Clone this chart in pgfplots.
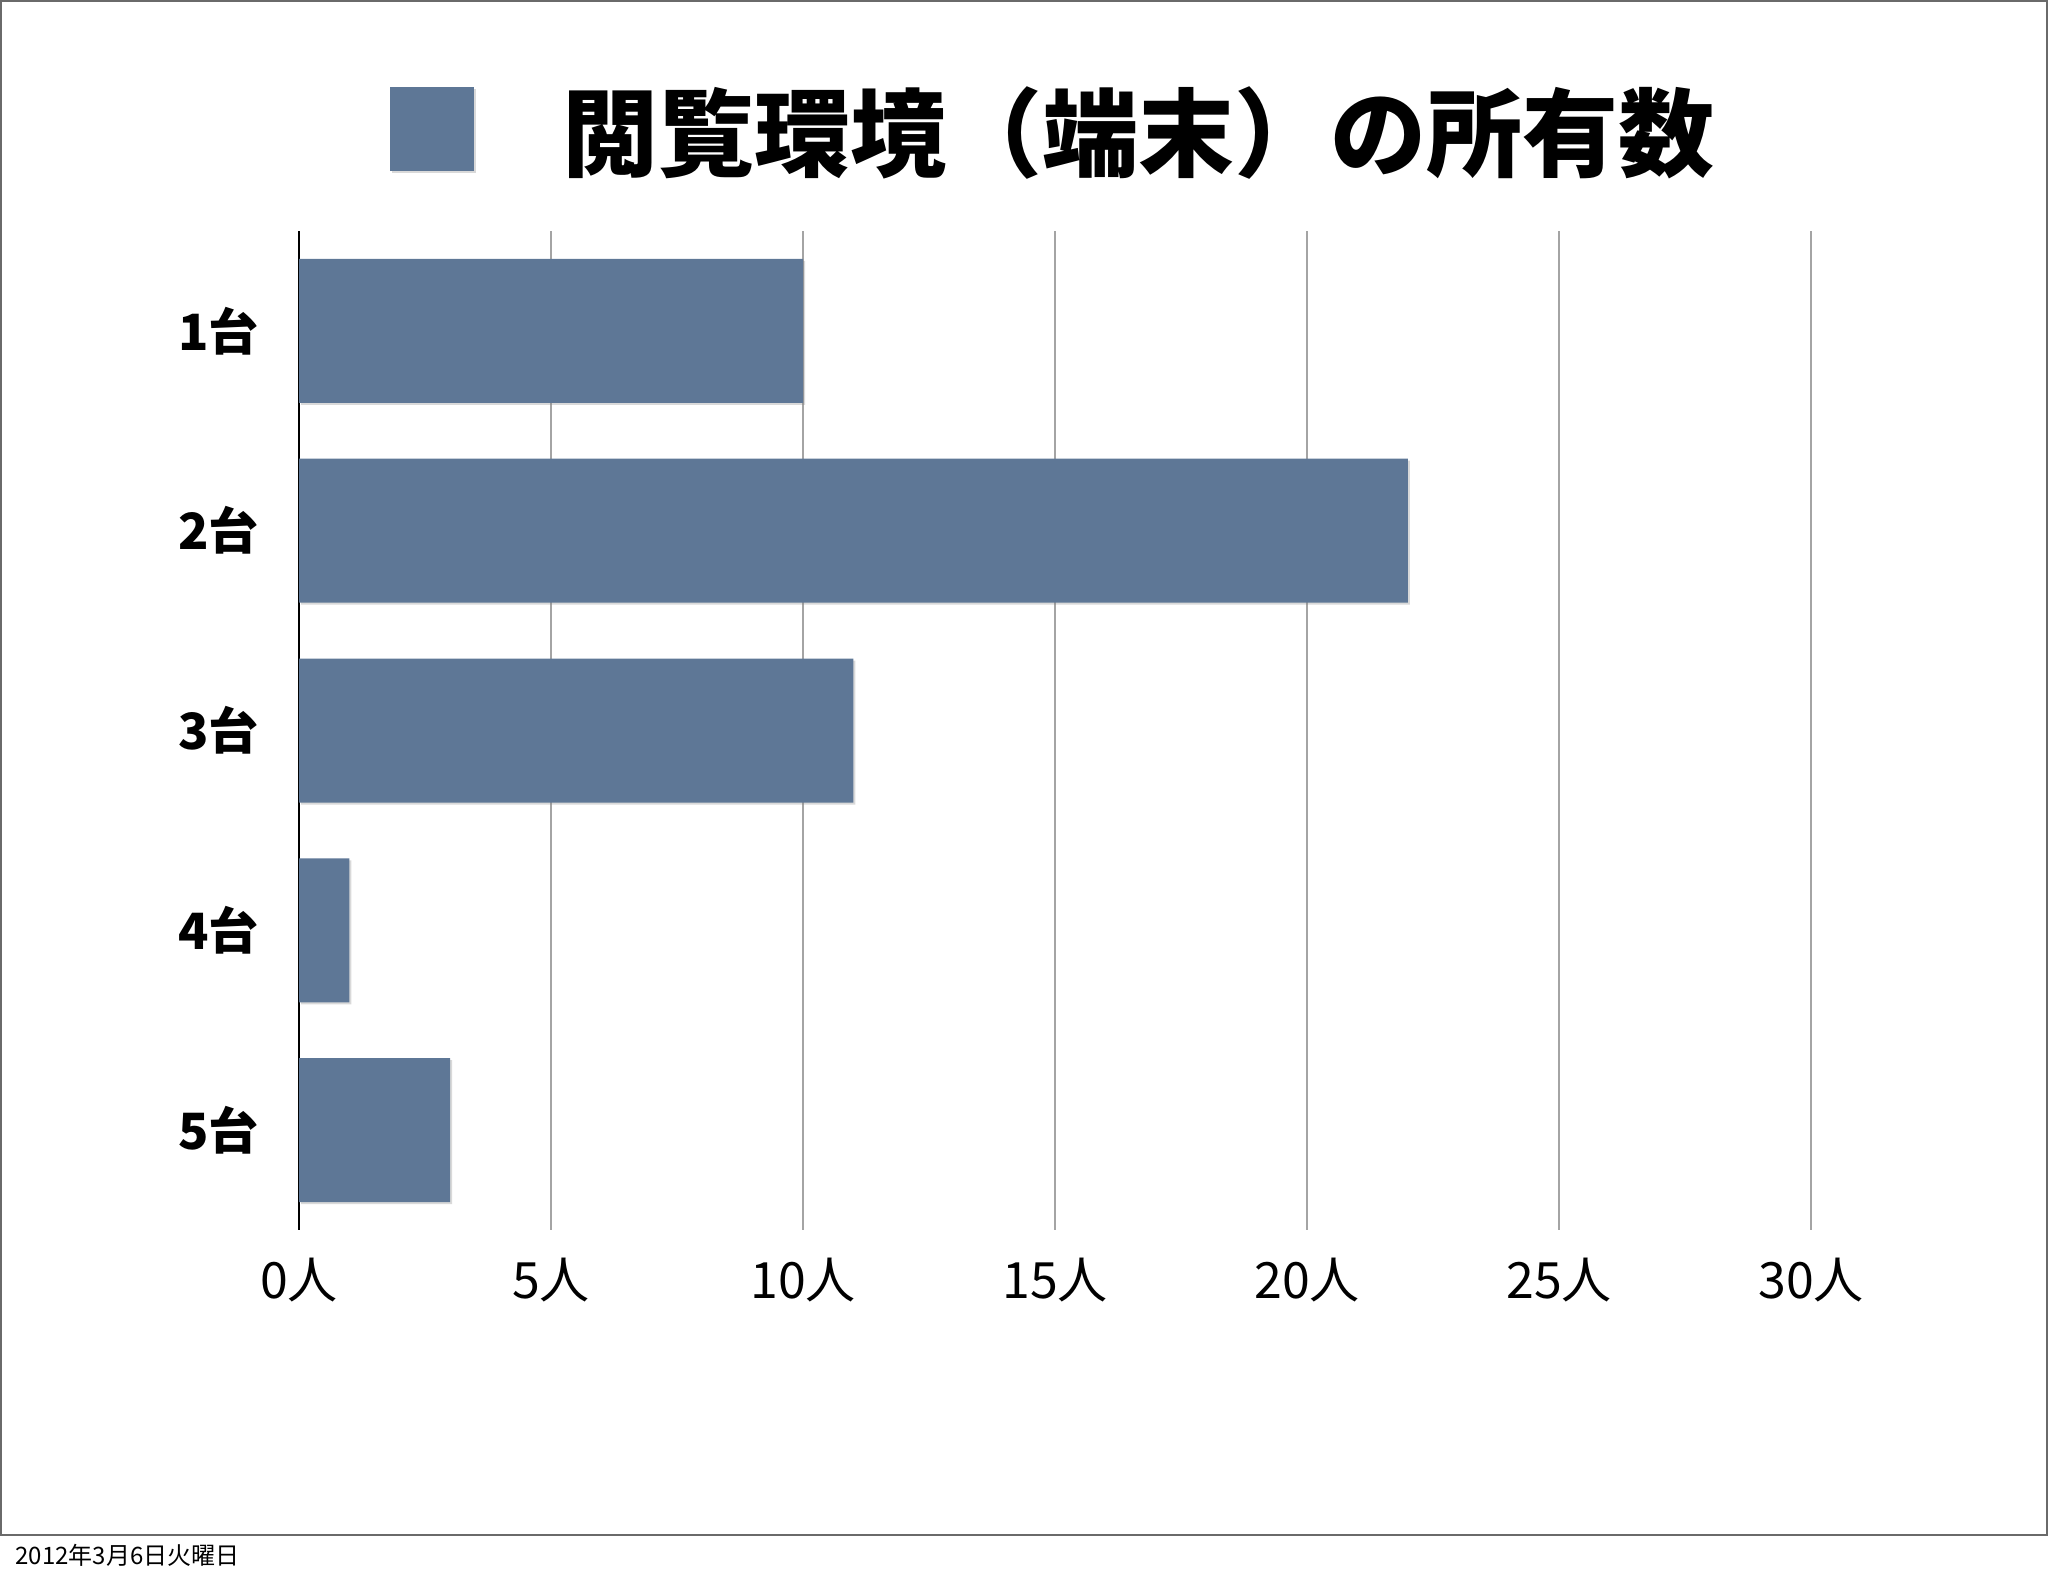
\documentclass[border=0pt]{standalone}
\usepackage{fontspec}
\setmainfont{Noto Sans CJK JP}
\usepackage{pgfplots}
\pgfplotsset{compat=1.18}
\usetikzlibrary{shadows}
\definecolor{barc}{HTML}{5E7796}
\definecolor{gridc}{HTML}{A4A4A4}
\definecolor{framec}{HTML}{6A6A6A}

\begin{document}
\begin{tikzpicture}[x=0.5pt,y=0.5pt]
\path[use as bounding box] (0,0) rectangle (2048,1576);
\draw[framec, line width=1.2pt] (1,41) rectangle (2047,1575);
\node[anchor=west, inner sep=0pt, font=\fontsize{12}{14}\selectfont] at (15,21) {2012年3月6日火曜日};

\begin{axis}[
  at={(149.5pt,173pt)}, anchor=south west,
  scale only axis,
  width=756pt, height=499.5pt,
  xbar, bar width=72pt, bar shift=0pt,
  xmin=0, xmax=30,
  ymin=0.5, ymax=5.5,
  y dir=reverse,
  axis line style={draw=none},
  major tick length=0pt,
  xtick={0,5,10,15,20,25,30},
  xticklabels={0人,5人,10人,15人,20人,25人,30人},
  xticklabel style={font=\fontsize{25}{27}\selectfont, anchor=center, yshift=-25pt},
  ytick={1,2,3,4,5},
  yticklabels={1台,2台,3台,4台,5台},
  yticklabel style={font=\bfseries\fontsize{25}{27}\selectfont, anchor=east, inner sep=0pt, xshift=-20pt},
  xmajorgrids,
  major grid style={gridc, line width=0.8pt},
  extra x ticks={0},
  extra x tick labels={},
  extra x tick style={grid=major, major grid style={black, line width=1pt}},
  legend style={at={(0.0602,1.102)}, anchor=west, draw=none, fill=none,
    inner sep=0pt, nodes={inner sep=0pt},
    font=\bfseries\fontsize{48}{50}\selectfont,
    /tikz/every odd column/.append style={column sep=44pt}},
  legend image code/.code={\fill[barc] (0pt,-21pt) rectangle (42pt,21pt);},
]
\addplot[fill=barc, draw=none,
  drop shadow={shadow xshift=1pt, shadow yshift=-1pt, opacity=0.3}]
  coordinates {(10,1) (22,2) (11,3) (1,4) (3,5)};
\addlegendentry{閲覧環境（端末）の所有数}
\end{axis}
\end{tikzpicture}
\end{document}
